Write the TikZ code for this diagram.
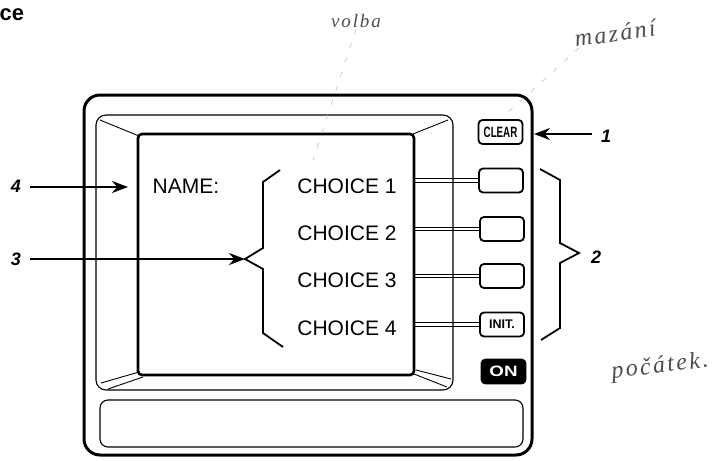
\documentclass[tikz,border=0pt]{standalone}
\usepackage{fontspec}
\setmainfont{Liberation Sans}
\newfontfamily\handfont[LetterSpace=10]{Liberation Serif}
\usetikzlibrary{arrows.meta,positioning,calc}

\begin{document}
\begin{tikzpicture}[x=1pt, y=-1pt,
  font=\fontsize{21}{24}\selectfont,
  >={Stealth[length=16pt,width=12pt]},
  casing/.style={draw, line width=3pt, rounded corners=16pt, inner sep=0pt},
  bezel/.style={draw, line width=1.1pt, rounded corners=10pt, inner sep=0pt},
  screen/.style={draw, line width=2.6pt, rounded corners=4pt, inner sep=0pt},
  bevel/.style={line width=0.9pt},
  softkey/.style={draw, line width=1.8pt, rounded corners=4pt, inner sep=0pt, minimum width=44pt, minimum height=24pt, font=\bfseries\fontsize{12.5}{14}\selectfont},
  wire/.style={line width=0.9pt},
  brace/.style={line width=1.8pt},
  pointer/.style={->, line width=2.2pt},
  tag/.style={inner sep=9pt, font=\bfseries\itshape\fontsize{18}{20}\selectfont},
  hand/.style={text=black!70, inner sep=1pt},
  pencil/.style={black!30, line width=0.5pt, dash pattern=on 5pt off 10pt},
]
\useasboundingbox (0,0) rectangle (722,460);

% heading cut off at the page edge
\node[anchor=west, inner sep=0pt, font=\bfseries\fontsize{22}{24}\selectfont] (head) at (-0.5,15) {ce};

% housing, bezel, screen and lower strip
\node[casing, minimum width=448pt, minimum height=360pt] (case) at (308,275) {};
\node[bezel, minimum width=357pt, minimum height=275pt] (bez) at (274.5,252.5) {};
\node[screen, minimum width=276pt, minimum height=241pt] (scr) at (276,254.5) {};
\node[bezel, rounded corners=8pt, minimum width=423pt, minimum height=47pt] (strip) at (311.5,423.5) {};

% bevel edges
\draw[bevel] (100,120) -- (139,136);
\draw[bevel] (413,134) -- (448,120);
\draw[bevel] (139,372) -- (101,383);
\draw[bevel] (143,377) -- (108,389);
\draw[bevel] (416,370) -- (451,379);
\draw[bevel] (414,374) -- (447,387);

% screen text
\node (name) at (186,186) {NAME:};
\foreach \i/\y in {1/186,2/233,3/280,4/328}
  \node (ch\i) at (347,\y) {CHOICE \i};

% keys
\node[softkey] (clr) at (500.5,132) {\fontsize{15}{16}\selectfont\scalebox{0.65}[1]{CLEAR}};
\node[softkey] (k1) at (501,180.5) {};
\node[softkey] (k2) at (502,229) {};
\node[softkey] (k3) at (502,276) {};
\node[softkey] (init) at (502,324.5) {INIT.};
\node[softkey, fill=black, text=white] (on) at (503.5,371.5) {\fontsize{15}{16}\selectfont\scalebox{1.25}[1]{ON}};

\foreach \k in {k1,k2,k3,init} {
  \draw[wire] ([yshift=1.7pt]scr.east |- \k) -- ([yshift=1.7pt]\k.west);
  \draw[wire, line width=1.3pt] ([yshift=-1.7pt]scr.east |- \k) -- ([yshift=-1.7pt]\k.west);
}

% brace over the choices
\coordinate (b3) at (245,259);
\draw[brace] (280,170) -- (263,182) -- (263,248) -- (b3) -- (263,269) -- (263,333) -- (283,347);

% brace over the keys
\coordinate (b2) at (579,253);
\draw[brace] (540,169) -- (560,180) -- (560,243) -- (b2) -- (560,263) -- (560,328) -- (541,340);

% callouts
\node[tag] (t1) at (606,136) {1};
\coordinate (p1) at (534,134);
\draw[pointer] (t1.west |- p1) -- (p1);

\node[tag, inner sep=2pt] (t2) at (596,257) {2};

\node[tag] (t3) at (16,259) {3};
\draw[pointer] (t3.east |- b3) -- (b3);

\node[tag] (t4) at (16,186) {4};
\coordinate (p4) at (128,187);
\draw[pointer] (t4.east |- p4) -- (p4);

% pencil notes
\node[hand, font=\handfont\itshape\fontsize{19}{20}\selectfont] (hvol) at (356,21) {volba};
\node[hand, rotate=8, font=\handfont\itshape\fontsize{24}{26}\selectfont] (hmaz) at (615,33) {mazání};
\node[hand, rotate=7, font=\handfont\itshape\fontsize{24}{26}\selectfont] (hpoc) at (660,367) {počátek.};

\coordinate (v1) at (313,160);
\coordinate (m1) at (505,115);
\draw[pencil] (hvol.south) -- (v1);
\draw[pencil] ($(hmaz.south west)!0.05!(hmaz.south east)$) -- (m1);
\end{tikzpicture}
\end{document}
